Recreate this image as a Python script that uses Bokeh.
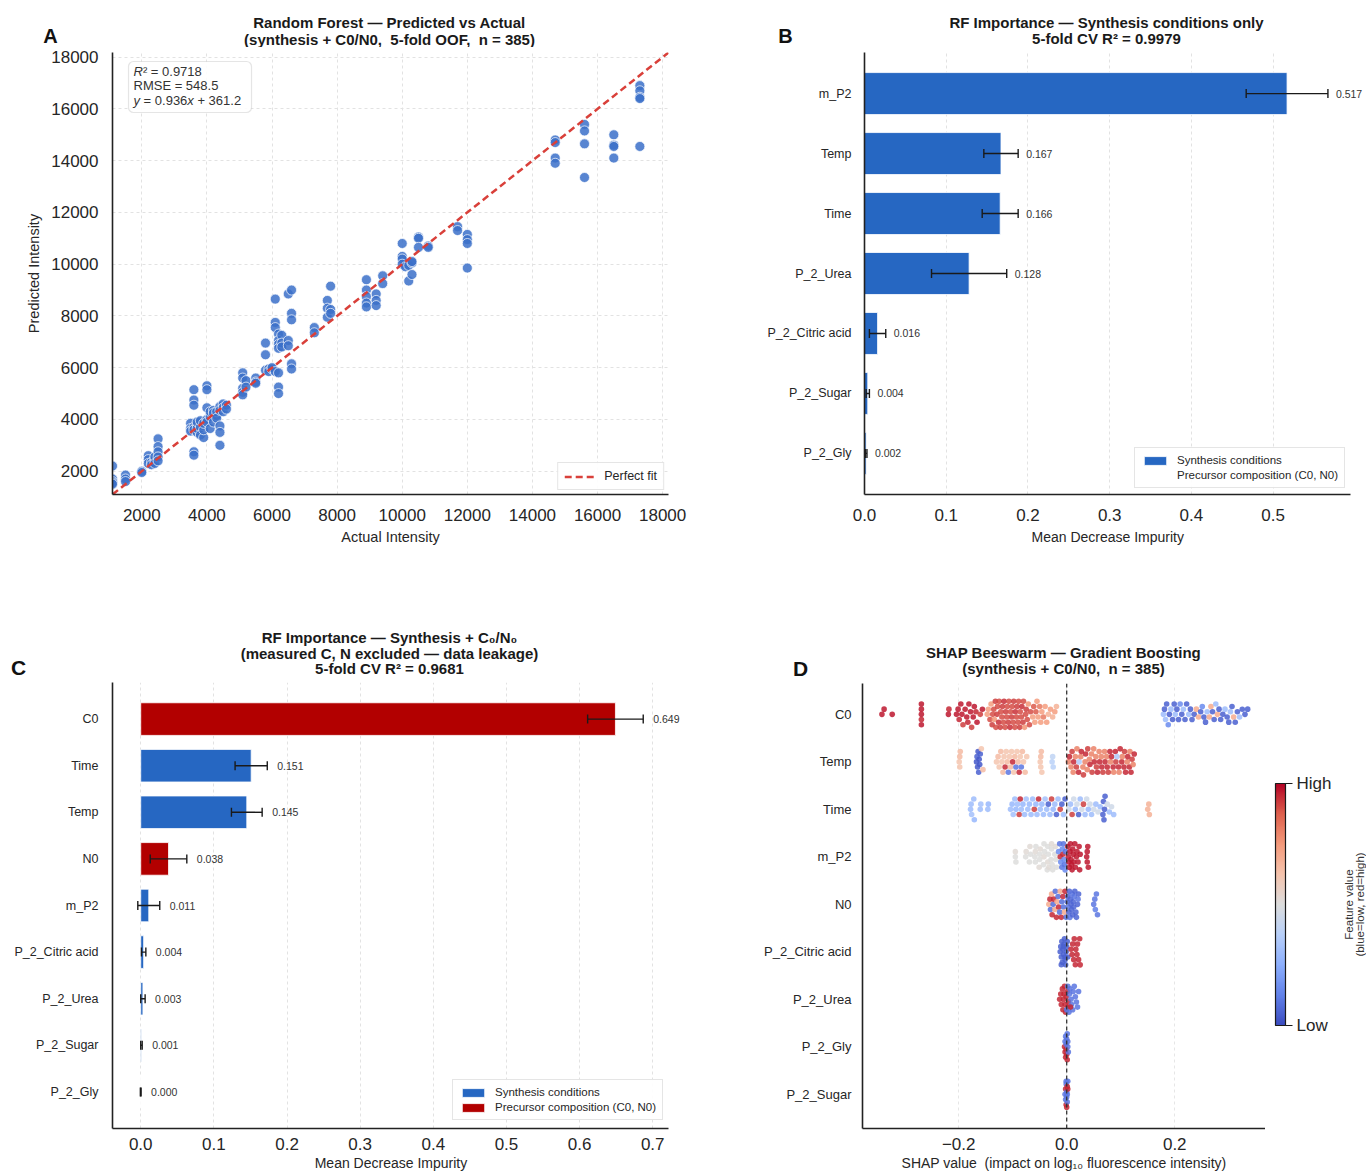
import math

from bokeh.core.properties import value
from bokeh.embed import file_html
from bokeh.layouts import column, row
from bokeh.models import (BoxAnnotation, ColorBar, ColumnDataSource, FixedTicker, Label,
                          LabelSet, Legend, LegendItem, LinearColorMapper, NumeralTickFormatter,
                          Range1d, Span, TeeHead, Whisker)
from bokeh.plotting import figure
from bokeh.resources import INLINE

FONT = "Liberation Sans"
INK = "#1a1a1a"
TICK_INK = "#262626"
SYN_BLUE = "#2667C2"
PREC_RED = "#B20000"
POINT_BLUE = "#3B70C9"
FIT_RED = "#D9403A"
GRID = "#e2e2e2"
NBSP = "\u00a0"

# ---------------- Panel A: out-of-fold predictions (actual, predicted) ----------------
oof_points = [
    (1100, 2200), (1100, 1700), (1100, 1600), (1100, 1550), (1100, 1500),
    (1500, 1850), (1500, 1700), (1500, 1600),
    (2000, 2000), (2000, 1950),
    (2200, 2600), (2200, 2450), (2200, 2300),
    (2300, 2350), (2300, 2250),
    (2400, 2450), (2400, 2550), (2400, 2300),
    (2500, 3250), (2500, 2950), (2500, 2750), (2500, 2550), (2500, 2400),
    (3500, 3850), (3500, 3650), (3500, 3550),
    (3600, 5150), (3600, 4750), (3600, 4550), (3600, 3700), (3600, 3600), (3600, 2750), (3600, 2620),
    (3700, 3500), (3700, 3800), (3700, 3650), (3700, 3900),
    (3800, 3700), (3800, 3400), (3800, 3950),
    (3900, 3300), (3900, 3600), (3900, 3850),
    (4000, 5300), (4000, 5150), (4000, 4450), (4000, 4000), (4000, 3900),
    (4100, 3650), (4100, 4100), (4100, 4300),
    (4200, 4350), (4200, 4250), (4200, 3900),
    (4300, 4150), (4300, 4300), (4300, 4050),
    (4400, 4500), (4400, 4350), (4400, 3750), (4400, 3500), (4400, 3000),
    (4500, 4600), (4500, 4450), (4500, 4300),
    (4600, 4550), (4600, 4400),
    (5100, 5800), (5100, 5600), (5100, 5200), (5100, 5050), (5100, 4950),
    (5200, 5500), (5200, 5250),
    (5500, 5600), (5500, 5450), (5500, 5400),
    (5800, 6950), (5800, 6500), (5800, 5900),
    (5900, 5950), (5900, 5850),
    (6000, 5950), (6000, 6000),
    (6100, 8650), (6100, 7750), (6100, 7550), (6100, 5850),
    (6200, 7300), (6200, 7050), (6200, 6900), (6200, 6750), (6200, 5800), (6200, 5250), (6200, 5000),
    (6300, 7250), (6300, 6950), (6300, 6800),
    (6500, 8850), (6500, 7050), (6500, 6850),
    (6600, 9000), (6600, 8100), (6600, 7850), (6600, 6150), (6600, 5950),
    (7300, 7550), (7300, 7350),
    (7700, 8600), (7700, 8300), (7700, 7950),
    (7800, 9150), (7800, 8250), (7800, 8100),
    (8900, 9400), (8900, 9000), (8900, 8750), (8900, 8500), (8900, 8350),
    (9200, 8850), (9200, 8600), (9200, 8400),
    (9400, 9550), (9400, 9250),
    (10000, 10800), (10000, 10300), (10000, 10200), (10000, 10000),
    (10100, 9900),
    (10200, 9350), (10200, 9950),
    (10300, 10050), (10300, 9600), (10300, 10100),
    (10500, 11050), (10500, 11000), (10500, 10650),
    (10800, 10700), (10800, 10650),
    (11700, 11450), (11700, 11300),
    (12000, 11150), (12000, 10950), (12000, 10800), (12000, 9850),
    (14700, 14800), (14700, 14700), (14700, 14100), (14700, 13900),
    (15600, 15400), (15600, 15150), (15600, 14650), (15600, 13350),
    (16500, 15000), (16500, 14600), (16500, 14550), (16500, 14100),
    (17300, 16900), (17300, 16700), (17300, 16450), (17300, 16400), (17300, 14550),
]
intensity_lo, intensity_hi = 1100, 18180
intensity_ticks = [2000, 4000, 6000, 8000, 10000, 12000, 14000, 16000, 18000]
r2_value = "0.9718"
rmse_value = "548.5"
fit_slope = "0.936"
fit_intercept = "361.2"

# ---------------- Panel B: RF importance, synthesis conditions only ----------------
feat_b = ["m_P2", "Temp", "Time", "P_2_Urea", "P_2_Citric acid", "P_2_Sugar", "P_2_Gly"]
imp_b = [0.517, 0.167, 0.166, 0.128, 0.016, 0.004, 0.002]
std_b = [0.050, 0.021, 0.022, 0.046, 0.010, 0.002, 0.001]

# ---------------- Panel C: RF importance, synthesis + C0/N0 ----------------
feat_c = ["C0", "Time", "Temp", "N0", "m_P2", "P_2_Citric acid", "P_2_Urea", "P_2_Sugar", "P_2_Gly"]
imp_c = [0.649, 0.151, 0.145, 0.038, 0.011, 0.004, 0.003, 0.001, 0.000]
std_c = [0.038, 0.022, 0.021, 0.025, 0.015, 0.003, 0.003, 0.001, 0.0005]
group_c = ["prec", "syn", "syn", "prec", "syn", "syn", "syn", "syn", "syn"]

# ---------------- Panel D: SHAP values (shap, scaled feature value) ----------------
shap_c0 = [
    (-0.342, .97), (-0.338, .97), (-0.323, .97),
    (-0.269, .97), (-0.269, .97), (-0.269, .95), (-0.269, .97), (-0.269, .97),
    (-0.219, .97), (-0.218, .95), (-0.204, .97), (-0.201, .97), (-0.199, .95), (-0.196, .97),
    (-0.194, .97), (-0.192, .92), (-0.188, .97), (-0.185, .97), (-0.183, .95), (-0.181, .97),
    (-0.178, .97), (-0.176, .92), (-0.173, .97), (-0.171, .97), (-0.168, .95), (-0.166, .97),
    (-0.160, .92), (-0.156, .97),
    (-0.147, .74), (-0.145, .74), (-0.142, .90), (-0.140, .74), (-0.138, .92), (-0.137, .90),
    (-0.135, .90), (-0.134, .76), (-0.132, .92), (-0.131, .90), (-0.129, .92), (-0.128, .90),
    (-0.126, .94), (-0.125, .90), (-0.123, .92), (-0.122, .90), (-0.120, .90), (-0.119, .92),
    (-0.117, .90), (-0.116, .94), (-0.114, .90), (-0.113, .92), (-0.111, .90), (-0.110, .90),
    (-0.108, .92), (-0.107, .90), (-0.105, .94), (-0.104, .90), (-0.102, .92), (-0.101, .90),
    (-0.099, .90), (-0.098, .92), (-0.096, .90), (-0.095, .94), (-0.093, .90), (-0.092, .92),
    (-0.090, .90), (-0.089, .90), (-0.087, .92), (-0.086, .90), (-0.084, .90), (-0.083, .94),
    (-0.081, .92), (-0.080, .90), (-0.078, .76), (-0.076, .90), (-0.075, .92), (-0.073, .90),
    (-0.071, .76), (-0.069, .90), (-0.067, .90),
    (-0.063, .74), (-0.061, .88), (-0.059, .74), (-0.057, .88), (-0.055, .74), (-0.053, .74),
    (-0.050, .82), (-0.048, .74), (-0.046, .74), (-0.043, .82), (-0.040, .74), (-0.037, .74),
    (-0.034, .68), (-0.030, .74), (-0.026, .68), (-0.022, .74), (-0.019, .68),
    (0.179, .30), (0.181, .05), (0.183, .30), (0.185, .05), (0.188, .15), (0.190, .05),
    (0.193, .30), (0.196, .05), (0.199, .05), (0.201, .30), (0.204, .05), (0.207, .05),
    (0.210, .15), (0.213, .05), (0.216, .30), (0.219, .05), (0.222, .05), (0.226, .30),
    (0.229, .05), (0.232, .05), (0.236, .05), (0.240, .70), (0.244, .70), (0.248, .05),
    (0.251, .15), (0.254, .05), (0.257, .05), (0.260, .30), (0.264, .70), (0.267, .70),
    (0.270, .05), (0.273, .05), (0.276, .30), (0.279, .70), (0.282, .05), (0.285, .05),
    (0.289, .05), (0.293, .30), (0.297, .05), (0.300, .05), (0.303, .30), (0.306, .05),
    (0.309, .70), (0.312, .05), (0.316, .05), (0.320, .30), (0.325, .05), (0.330, .05),
    (0.335, .05),
]
shap_temp = [
    (-0.199, .62), (-0.198, .65), (-0.198, .62), (-0.197, .65),
    (-0.167, .03), (-0.166, .05), (-0.165, .03), (-0.164, .03), (-0.163, .05), (-0.162, .03),
    (-0.161, .03), (-0.160, .05), (-0.158, .62), (-0.155, .65),
    (-0.130, .62), (-0.127, .65), (-0.125, .62), (-0.122, .65), (-0.120, .62), (-0.118, .65),
    (-0.116, .62), (-0.114, .95), (-0.112, .62), (-0.110, .65), (-0.108, .10), (-0.106, .62),
    (-0.104, .65), (-0.102, .62), (-0.100, .95), (-0.098, .62), (-0.096, .65), (-0.094, .10),
    (-0.092, .62), (-0.090, .65), (-0.088, .95), (-0.086, .62), (-0.084, .10), (-0.082, .65),
    (-0.080, .62), (-0.077, .65), (-0.074, .62),
    (-0.049, .62), (-0.048, .65), (-0.048, .62), (-0.047, .65), (-0.046, .62),
    (-0.027, .38), (-0.026, .40), (-0.025, .38),
    (0.003, .80), (0.005, .95), (0.008, .80), (0.010, .92), (0.012, .80), (0.013, .95),
    (0.016, .80), (0.018, .92), (0.019, .80), (0.022, .95), (0.023, .35), (0.026, .80),
    (0.027, .95), (0.030, .80), (0.031, .92), (0.034, .80), (0.035, .95), (0.038, .80),
    (0.039, .92), (0.042, .80), (0.043, .95), (0.046, .80), (0.047, .92), (0.050, .80),
    (0.051, .95), (0.054, .80), (0.055, .92), (0.057, .95), (0.060, .80), (0.061, .95),
    (0.064, .80), (0.065, .95), (0.067, .92), (0.070, .80), (0.071, .95), (0.074, .80),
    (0.075, .95), (0.077, .92), (0.080, .95), (0.081, .80), (0.083, .95), (0.086, .95),
    (0.087, .80), (0.090, .95), (0.091, .92), (0.093, .35), (0.096, .95), (0.097, .80),
    (0.099, .95), (0.102, .95), (0.103, .80), (0.106, .95), (0.107, .92), (0.109, .95),
    (0.112, .80), (0.113, .95), (0.116, .95), (0.117, .80), (0.119, .95), (0.121, .92),
    (0.123, .80), (0.125, .95),
]
shap_time = [
    (-0.178, .30), (-0.177, .30), (-0.176, .32), (-0.172, .30), (-0.171, .28), (-0.160, .30),
    (-0.159, .32), (-0.146, .30), (-0.145, .28),
    (-0.104, .30), (-0.101, .28), (-0.099, .32), (-0.096, .30), (-0.094, .28), (-0.091, .30),
    (-0.088, .92), (-0.086, .95), (-0.084, .30), (-0.081, .28), (-0.078, .30), (-0.075, .32),
    (-0.072, .30), (-0.069, .28), (-0.066, .30), (-0.063, .30), (-0.060, .92), (-0.057, .28),
    (-0.055, .30), (-0.052, .95), (-0.049, .30), (-0.046, .28), (-0.043, .30), (-0.040, .32),
    (-0.037, .30), (-0.034, .05), (-0.031, .30), (-0.028, .92), (-0.025, .28), (-0.022, .30),
    (-0.019, .05), (-0.016, .30), (-0.012, .92), (-0.009, .05), (-0.006, .30), (-0.003, .05),
    (0.004, .45), (0.007, .30), (0.010, .92), (0.013, .45), (0.016, .28), (0.019, .45),
    (0.022, .05), (0.025, .30), (0.028, .45), (0.031, .92), (0.034, .30), (0.037, .45),
    (0.040, .28), (0.043, .45), (0.046, .30), (0.050, .45), (0.054, .30), (0.058, .45),
    (0.062, .30), (0.067, .05), (0.068, .05), (0.069, .05), (0.070, .05), (0.071, .05),
    (0.075, .45), (0.079, .30), (0.083, .45), (0.087, .30),
    (0.150, .68), (0.152, .68), (0.153, .68),
]
shap_mp2 = [
    (-0.095, .50), (-0.095, .52), (-0.094, .50), (-0.076, .50), (-0.075, .52), (-0.069, .50),
    (-0.068, .52), (-0.067, .50), (-0.059, .50), (-0.058, .52), (-0.058, .50), (-0.057, .50),
    (-0.051, .52), (-0.050, .50), (-0.050, .50), (-0.049, .52), (-0.043, .50), (-0.042, .52),
    (-0.042, .50), (-0.041, .50), (-0.036, .50), (-0.035, .52), (-0.035, .50), (-0.034, .50),
    (-0.033, .52), (-0.029, .50), (-0.028, .50), (-0.028, .52), (-0.027, .50), (-0.026, .50),
    (-0.022, .50), (-0.021, .52), (-0.020, .50), (-0.019, .50),
    (-0.015, .15), (-0.013, .10), (-0.012, .95), (-0.011, .15), (-0.009, .10), (-0.008, .15),
    (-0.007, .95), (-0.006, .10), (-0.005, .15), (-0.004, .10), (-0.003, .15), (-0.002, .10),
    (0.002, .97), (0.003, .97), (0.004, .97), (0.005, .97), (0.006, .97), (0.007, .97),
    (0.008, .97), (0.009, .97), (0.010, .97), (0.011, .97), (0.012, .97), (0.013, .97),
    (0.015, .97), (0.016, .97), (0.018, .97), (0.019, .97), (0.021, .97), (0.023, .97),
    (0.024, .97), (0.025, .97), (0.037, .97), (0.038, .97), (0.038, .97), (0.039, .97),
    (0.040, .97),
]
shap_n0 = [
    (-0.033, .70), (-0.031, .95), (-0.030, .08), (-0.028, .70), (-0.027, .95), (-0.025, .08),
    (-0.024, .95), (-0.022, .70), (-0.021, .08), (-0.019, .95), (-0.018, .70), (-0.016, .08),
    (-0.015, .95), (-0.013, .08), (-0.012, .70), (-0.010, .95), (-0.009, .08), (-0.007, .95),
    (-0.006, .08), (-0.004, .70), (-0.003, .95), (-0.001, .08),
    (0.001, .06), (0.002, .06), (0.003, .10), (0.004, .06), (0.005, .06), (0.006, .10),
    (0.007, .06), (0.008, .06), (0.009, .06), (0.010, .10), (0.011, .06), (0.012, .06),
    (0.013, .06), (0.014, .10), (0.015, .06), (0.017, .06), (0.018, .06), (0.020, .06),
    (0.021, .10), (0.022, .06),
    (0.050, .10), (0.052, .10), (0.053, .12), (0.055, .10), (0.057, .10),
]
shap_citric = [
    (-0.012, .05), (-0.011, .05), (-0.010, .05), (-0.009, .05), (-0.008, .05), (-0.007, .05),
    (-0.006, .05), (-0.005, .05), (-0.004, .05), (-0.003, .05), (-0.002, .05), (-0.001, .05),
    (0.000, .05), (0.001, .05), (0.002, .05), (-0.010, .05), (-0.006, .05), (-0.003, .05),
    (0.008, .95), (0.010, .95), (0.011, .95), (0.013, .95), (0.014, .95), (0.016, .95),
    (0.017, .95), (0.019, .95), (0.020, .95), (0.022, .95), (0.024, .95), (0.025, .95),
]
shap_urea = [
    (-0.013, .95), (-0.011, .95), (-0.010, .95), (-0.008, .95), (-0.007, .95), (-0.006, .95),
    (-0.005, .95), (-0.004, .95), (-0.003, .95), (-0.002, .95), (-0.001, .95), (0.001, .95),
    (0.002, .95), (0.003, .95),
    (0.000, .10), (0.002, .10), (0.004, .10), (0.005, .10), (0.006, .10), (0.008, .10),
    (0.009, .10), (0.011, .10), (0.012, .10), (0.014, .10), (0.016, .10), (0.018, .10),
    (0.020, .10), (0.022, .10), (0.007, .95),
]
shap_gly = [
    (-0.004, .95), (-0.003, .10), (-0.003, .95), (-0.002, .10), (-0.002, .95), (-0.001, .10),
    (-0.001, .95), (0.000, .10), (0.000, .95), (0.001, .10), (0.001, .95), (0.002, .10),
    (0.002, .10), (0.003, .10),
]
shap_sugar = [
    (-0.003, .10), (-0.002, .95), (-0.002, .10), (-0.001, .10), (-0.001, .95), (0.000, .10),
    (0.000, .10), (0.001, .95), (0.001, .10), (0.002, .10), (0.000, .95), (-0.001, .10),
    (0.001, .10), (0.002, .95),
]
feat_d = ["P_2_Sugar", "P_2_Gly", "P_2_Urea", "P_2_Citric acid", "N0", "m_P2", "Time", "Temp", "C0"]
rows_d = [shap_sugar, shap_gly, shap_urea, shap_citric, shap_n0, shap_mp2, shap_time, shap_temp, shap_c0]

# coolwarm anchor colours for the feature-value colour scale
coolwarm_anchors = [
    (0.0, (59, 76, 192)), (0.125, (98, 130, 234)), (0.25, (141, 176, 254)),
    (0.375, (184, 208, 249)), (0.5, (221, 221, 221)), (0.625, (245, 196, 173)),
    (0.75, (244, 154, 123)), (0.875, (222, 96, 77)), (1.0, (180, 4, 38)),
]


def coolwarm_palette(n=256):
    out = []
    for i in range(n):
        t = i / (n - 1)
        for (t0, c0), (t1, c1) in zip(coolwarm_anchors[:-1], coolwarm_anchors[1:]):
            if t0 <= t <= t1:
                f = (t - t0) / (t1 - t0)
                rgb = [round(a + (b - a) * f) for a, b in zip(c0, c1)]
                out.append("#%02x%02x%02x" % tuple(rgb))
                break
    return out


def blank(w, h):
    """Axis-free figure whose frame fills the whole box (for titles and the colour key)."""
    s = figure(frame_width=w, frame_height=h, min_border=0, frame_align=False,
               x_range=Range1d(0, w), y_range=Range1d(0, h),
               x_axis_location=None, y_axis_location=None,
               output_backend="svg", toolbar_location=None, tools="")
    s.outline_line_color = None
    s.background_fill_color = "white"
    s.border_fill_color = "white"
    for g in s.grid:
        g.visible = False
    return s


def strip_text(s, x, y_from_top, text, size, style="bold", align="center", color=INK, angle=0.0):
    h = s.y_range.end
    s.add_layout(Label(x=x, y=h - y_from_top, text=text, text_font=FONT,
                       text_font_size=f"{size}px", text_font_style=style,
                       text_align=align, text_baseline="middle", text_color=color,
                       angle=angle))


def base_figure(fw, fh, left, right, top, bottom, xr, yr, xbounds=None):
    p = figure(frame_width=fw, frame_height=fh, frame_align=False,
               min_border_left=left, min_border_right=right,
               min_border_top=top, min_border_bottom=bottom,
               x_range=Range1d(*xr), y_range=Range1d(*yr),
               output_backend="svg", toolbar_location=None, tools="")
    p.outline_line_color = None
    p.background_fill_color = "white"
    p.border_fill_color = "white"
    for ax in (p.xaxis[0], p.yaxis[0]):
        ax.axis_line_color = "#222222"
        ax.axis_line_width = 1.6
        ax.major_tick_line_color = None
        ax.minor_tick_line_color = None
        ax.major_label_text_font = FONT
        ax.axis_label_text_font = FONT
        ax.axis_label_text_font_style = "normal"
        ax.major_label_text_color = TICK_INK
        ax.axis_label_text_color = TICK_INK
    if xbounds is not None:
        p.xaxis.bounds = xbounds
    for g in (p.xgrid[0], p.ygrid[0]):
        g.grid_line_color = GRID
        g.grid_line_dash = "3 3"
        g.grid_line_width = 1
    return p


def put_text(p, x, y, text, size, style="normal", align="center", color=INK, angle=0.0):
    p.add_layout(Label(x=x, y=y, x_units="screen", y_units="screen", text=text,
                       text_font=FONT, text_font_size=f"{size}px", text_font_style=style,
                       text_align=align, text_baseline="middle", text_color=color,
                       angle=angle))


def style_legend(lg, size, location):
    lg.location = location
    lg.label_text_font = FONT
    lg.label_text_font_size = f"{size}px"
    lg.label_text_color = TICK_INK
    lg.border_line_color = "#cccccc"
    lg.border_line_width = 1
    lg.background_fill_color = "white"
    lg.background_fill_alpha = 0.92
    lg.margin = 5
    lg.padding = 6
    lg.spacing = 3
    lg.label_standoff = 8
    lg.glyph_width = 28
    lg.glyph_height = 11
    lg.label_height = 12


def bar_axes(p, names, label_size, standoff, tick_standoff):
    n = len(names)
    p.yaxis.ticker = FixedTicker(ticks=list(range(n)))
    p.yaxis.major_label_overrides = {i: names[n - 1 - i] for i in range(n)}
    p.yaxis.major_label_text_font_size = f"{label_size}px"
    p.yaxis.major_label_standoff = standoff
    p.ygrid.grid_line_color = None
    p.xaxis.major_label_text_font_size = "17px"
    p.xaxis.major_label_standoff = tick_standoff
    p.xaxis.axis_label_text_font_size = "14px"
    p.xaxis.axis_label_standoff = 2


def bar_source(names, imps, stds, keep):
    n = len(names)
    rows = [i for i in range(n) if keep(i)]
    return ColumnDataSource(dict(
        y=[n - 1 - i for i in rows],
        imp=[imps[i] for i in rows],
        lo=[imps[i] - stds[i] for i in rows],
        hi=[imps[i] + stds[i] for i in rows],
        lab=["%.3f" % imps[i] for i in rows],
    ))


def error_and_values(p, src, offset):
    head = dict(size=9, line_color=INK, line_width=1.4)
    p.add_layout(Whisker(source=src, base="y", lower="lo", upper="hi", dimension="width",
                         line_color=INK, line_width=1.4, level="annotation",
                         lower_head=TeeHead(**head), upper_head=TeeHead(**head)))
    p.add_layout(LabelSet(x="hi", y="y", text="lab", source=src, x_offset=offset,
                          text_align="left", text_baseline="middle",
                          text_font=value(FONT), text_font_size=value("10.5px"),
                          text_color="#333333"))


# ======================= Panel A =======================
sa = blank(700, 47)
strip_text(sa, 50, 35, "A", 20, color="#111111")
strip_text(sa, 389, 22, "Random Forest \u2014 Predicted vs Actual", 15)
strip_text(sa, 389, 38.5, "(synthesis + C0/N0," + NBSP + " 5-fold OOF," + NBSP + " n = 385)", 15)

pa = base_figure(556, 442, 112, 32, 5, 66, (intensity_lo, intensity_hi), (intensity_lo, intensity_hi))
pa.xaxis.ticker = FixedTicker(ticks=intensity_ticks)
pa.yaxis.ticker = FixedTicker(ticks=intensity_ticks)
pa.xaxis.major_label_text_font_size = "17px"
pa.yaxis.major_label_text_font_size = "17px"
pa.xaxis.major_label_standoff = 8
pa.yaxis.major_label_standoff = 8
pa.xaxis.axis_label = "Actual Intensity"
pa.yaxis.axis_label = "Predicted Intensity"
pa.xaxis.axis_label_text_font_size = "14.5px"
pa.yaxis.axis_label_text_font_size = "14.5px"
pa.xaxis.axis_label_standoff = 5
pa.yaxis.axis_label_standoff = 6

src_a = ColumnDataSource(dict(actual=[a for a, _ in oof_points], pred=[b for _, b in oof_points]))
pa.scatter("actual", "pred", source=src_a, size=10, fill_color=POINT_BLUE, fill_alpha=0.85,
           line_color="white", line_width=0.7)
fit_r = pa.line([intensity_lo, intensity_hi], [intensity_lo, intensity_hi],
                line_color=FIT_RED, line_width=2.5, line_dash="7 4")
lg_a = Legend(items=[LegendItem(label="Perfect fit", renderers=[fit_r])])
style_legend(lg_a, 12.5, "bottom_right")
lg_a.glyph_width = 32
lg_a.margin = 4
pa.add_layout(lg_a)

pa.add_layout(BoxAnnotation(left=16, right=139, bottom=382, top=433,
                            left_units="screen", right_units="screen",
                            bottom_units="screen", top_units="screen",
                            fill_color="white", fill_alpha=0.9,
                            line_color="#a8a8a8", line_width=1.2, border_radius=5))
put_text(pa, 21, 423, "R", 13, style="italic", align="left", color="#333333")
put_text(pa, 30.4, 423, "\u00b2 = " + r2_value, 13, align="left", color="#333333")
put_text(pa, 21, 409, "RMSE = " + rmse_value, 13, align="left", color="#333333")
put_text(pa, 21, 394.5, "y", 13, style="italic", align="left", color="#333333")
put_text(pa, 31.1, 394.5, "= " + fit_slope, 13, align="left", color="#333333")
put_text(pa, 74.8, 394.5, "x", 13, style="italic", align="left", color="#333333")
put_text(pa, 84.9, 394.5, "+ " + fit_intercept, 13, align="left", color="#333333")

# ======================= Panel B =======================
sb = blank(666, 47)
strip_text(sb, 85, 35, "B", 20, color="#111111")
strip_text(sb, 406, 22, "RF Importance \u2014 Synthesis conditions only", 15)
strip_text(sb, 406, 38, "5-fold CV R\u00b2 = 0.9979", 15)

# the frame runs to the page edge so the 0.517 value label has room; the axis stops at 0.5946
pb = base_figure(502, 442, 164, 0, 5, 66, (0, 0.6142), (-0.685, 6.685), xbounds=(0, 0.5946))
bar_axes(pb, feat_b, 12.5, 7, 8)
pb.xaxis.ticker = FixedTicker(ticks=[0.0, 0.1, 0.2, 0.3, 0.4, 0.5])
pb.xaxis.formatter = NumeralTickFormatter(format="0.0")
pb.xaxis.axis_label = "Mean Decrease Impurity" + NBSP * 4
pb.xaxis.axis_label_standoff = 5

src_b = bar_source(feat_b, imp_b, std_b, lambda i: True)
syn_b = pb.hbar(y="y", right="imp", left=0, height=0.7, source=src_b,
                fill_color=SYN_BLUE, line_color="white", line_width=0.8)
prec_b = pb.hbar(y=[], right=[], left=0, height=0.7, fill_color=PREC_RED,
                 line_color="white", line_width=0.8)
error_and_values(pb, src_b, 8)
lg_b = Legend(items=[LegendItem(label="Synthesis conditions", renderers=[syn_b]),
                     LegendItem(label="Precursor composition (C0, N0)", renderers=[prec_b])])
style_legend(lg_b, 11.5, (270, 6))
pb.add_layout(lg_b)

# ======================= Panel C =======================
sc = blank(700, 122)
strip_text(sc, 18, 107, "C", 21, color="#111111")
strip_text(sc, 389, 77, "RF Importance \u2014 Synthesis + C\u2080/N\u2080", 15)
strip_text(sc, 389, 93, "(measured C, N excluded \u2014 data leakage)", 15)
strip_text(sc, 389, 108, "5-fold CV R\u00b2 = 0.9681", 15)

pc = base_figure(588, 446, 112, 0, 0, 46, (-0.0386, 0.7653), (-0.785, 8.785),
                 xbounds=(-0.0386, 0.7216))
bar_axes(pc, feat_c, 12.5, 8, 3)
pc.xaxis.ticker = FixedTicker(ticks=[0.0, 0.1, 0.2, 0.3, 0.4, 0.5, 0.6, 0.7])
pc.xaxis.formatter = NumeralTickFormatter(format="0.0")
pc.xaxis.axis_label = "Mean Decrease Impurity" + NBSP * 8

src_c_syn = bar_source(feat_c, imp_c, std_c, lambda i: group_c[i] == "syn")
src_c_prec = bar_source(feat_c, imp_c, std_c, lambda i: group_c[i] == "prec")
syn_c = pc.hbar(y="y", right="imp", left=0, height=0.7, source=src_c_syn,
                fill_color=SYN_BLUE, line_color="white", line_width=0.8)
prec_c = pc.hbar(y="y", right="imp", left=0, height=0.7, source=src_c_prec,
                 fill_color=PREC_RED, line_color="white", line_width=0.8)
error_and_values(pc, src_c_syn, 10)
error_and_values(pc, src_c_prec, 10)
lg_c = Legend(items=[LegendItem(label="Synthesis conditions", renderers=[syn_c]),
                     LegendItem(label="Precursor composition (C0, N0)", renderers=[prec_c])])
style_legend(lg_c, 11.5, (340, 8))
pc.add_layout(lg_c)

# ======================= Panel D =======================
sd = blank(666, 123)
strip_text(sd, 100, 108, "D", 21, color="#111111")
strip_text(sd, 363, 92, "SHAP Beeswarm \u2014 Gradient Boosting", 15)
strip_text(sd, 363, 108, "(synthesis + C0/N0," + NBSP + " n = 385)", 15)

d_xr = (-0.378, 0.368)
d_yr = (-0.72, 8.65)
d_fw, d_fh = 403, 445
pdd = base_figure(d_fw, d_fh, 162, 0, 0, 46, d_xr, d_yr)
bar_axes(pdd, feat_d[::-1], 13, 5, 3)
pdd.xaxis.ticker = FixedTicker(ticks=[-0.2, 0.0, 0.2])
pdd.xaxis.major_label_overrides = {-0.2: "\u22120.2", 0: "0.0", 0.2: "0.2"}
pdd.xaxis.axis_label = ("SHAP value" + NBSP + " (impact on log\u2081\u2080 "
                        "fluorescence intensity)")
pdd.xgrid.grid_line_color = "#e6e6e6"

px_per_x = d_fw / (d_xr[1] - d_xr[0])
px_per_row = d_fh / (d_yr[1] - d_yr[0])


def swarm_offsets(points, dot=5.0, step=2.6, max_off=13.5):
    """Vertical pixel offsets that spread the dots of one row into a band."""
    cands = [0.0]
    k = 1
    while k * step <= max_off:
        cands += [k * step, -k * step]
        k += 1
    placed, offs = [], []
    for sx, _ in points:
        px = sx * px_per_x
        best, best_gap, chosen = None, -1.0, None
        for c in cands:
            gap = min([math.hypot(px - qx, c - qy) for qx, qy in placed if abs(px - qx) < dot] or [99.0])
            if gap >= dot:
                chosen = c
                break
            if gap > best_gap:
                best_gap, best = gap, c
        if chosen is None:
            chosen = best
        placed.append((px, chosen))
        offs.append(chosen)
    return offs


xs, ys, fvs = [], [], []
for row_idx, pts in enumerate(rows_d):
    offs = swarm_offsets(pts)
    for (sx, fv), off in zip(pts, offs):
        xs.append(sx)
        ys.append(row_idx + off / px_per_row)
        fvs.append(fv)

palette = coolwarm_palette()
mapper = LinearColorMapper(palette=palette, low=0, high=1)
pdd.add_layout(Span(location=0, dimension="height", line_color="#333333",
                    line_width=1.3, line_dash="4 3"))
pdd.scatter("x", "y", source=ColumnDataSource(dict(x=xs, y=ys, fv=fvs)), size=5.6,
            fill_color={"field": "fv", "transform": mapper}, fill_alpha=0.85, line_color=None)

# colour key to the right of the beeswarm
key = blank(101, 491)
cb = ColorBar(color_mapper=mapper, ticker=FixedTicker(ticks=[0, 1]),
              major_label_overrides={0: "Low", 1: "High"},
              width=10, height=242, location=(10, 149), margin=0, padding=0,
              bar_line_color=INK, bar_line_width=1.2,
              major_tick_in=0, major_tick_out=7, major_tick_line_color=INK,
              major_tick_line_width=1.2, minor_tick_line_color=None,
              major_label_text_font=FONT, major_label_text_font_size="17px",
              major_label_text_color=TICK_INK, label_standoff=4,
              background_fill_color=None, border_line_color=None)
key.add_layout(cb)
strip_text(key, 83, 221, "Feature value", 11.5, style="normal", color="#333333", angle=math.pi / 2)
strip_text(key, 94.5, 221, "(blue=low, red=high)", 11.5, style="normal", color="#333333",
           angle=math.pi / 2)

layout = column(row(column(sa, pa), column(sb, pb)),
                row(column(sc, pc), column(sd, row(pdd, key))))
open("out.html", "w").write(file_html(layout, INLINE, title="RF importance and SHAP"))
